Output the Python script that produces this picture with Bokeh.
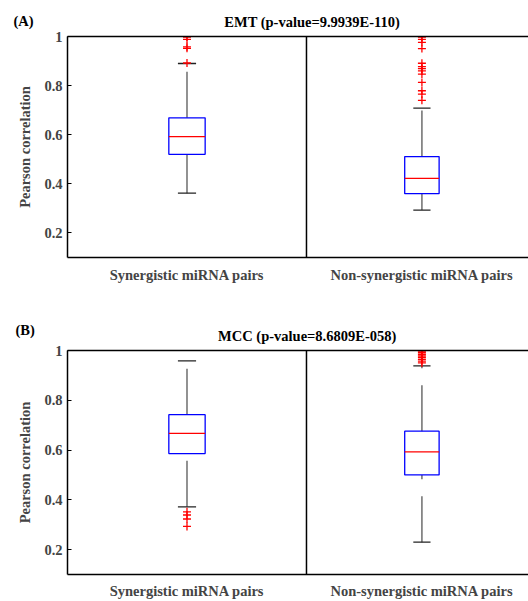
from bokeh.plotting import figure
from bokeh.models import Span, LinearAxis, FixedTicker, CustomJSTickFormatter, Range1d, ColumnDataSource
from bokeh.core.properties import value
from bokeh.layouts import column
from bokeh.embed import file_html
from bokeh.resources import INLINE

# ---------------- data ----------------
CATEGORIES = ["Synergistic miRNA pairs", "Non-synergistic miRNA pairs"]
Y_TICKS = [0.2, 0.4, 0.6, 0.8, 1.0]

EMT_LOWER = [0.362, 0.293]
EMT_Q1 = [0.520, 0.360]
EMT_MEDIAN = [0.592, 0.422]
EMT_Q3 = [0.669, 0.511]
EMT_UPPER = [0.890, 0.708]
EMT_OUT_SYN = [0.998, 0.988, 0.958, 0.952, 0.892]
EMT_OUT_NON = [0.998, 0.988, 0.976, 0.951, 0.891, 0.877, 0.869, 0.860,
               0.847, 0.813, 0.779, 0.765, 0.740]

MCC_LOWER = [0.372, 0.230]
MCC_Q1 = [0.586, 0.500]
MCC_MEDIAN = [0.667, 0.593]
MCC_Q3 = [0.742, 0.676]
MCC_UPPER = [0.958, 0.938]
MCC_OUT_SYN = [0.352, 0.339, 0.323, 0.293]
MCC_OUT_NON = [0.998, 0.992, 0.985, 0.978, 0.971, 0.964, 0.957, 0.950]

PANEL_TAGS = ["(A)", "(B)"]
TITLES = ["EMT (p-value=9.9939E-110)", "MCC (p-value=8.6809E-058)"]

# ---------------- layout constants ----------------
W = 528
X_POS = [0.5, 1.483]
BOX_W = [0.152, 0.144]
X_MAX = 1.929
FONT = "Liberation Serif"
FS = "14.5px"


def make_header(height, tag, title, tag_xy, title_xy):
    h = figure(width=W, height=height, x_range=Range1d(0, W), y_range=Range1d(0, height),
               output_backend="svg", toolbar_location=None,
               x_axis_type=None, y_axis_type=None,
               min_border_left=0, min_border_right=0, min_border_top=0, min_border_bottom=0)
    h.frame_align = False
    h.outline_line_color = None
    h.xgrid.visible = False
    h.ygrid.visible = False
    h.text(x=[tag_xy[0]], y=[tag_xy[1]], text=[tag], text_align="left",
           text_baseline="middle", text_font=value(FONT), text_font_style="bold",
           text_font_size=value(FS), text_color="black")
    h.text(x=[title_xy[0]], y=[title_xy[1]], text=[title], text_align="center",
           text_baseline="middle", text_font=value(FONT), text_font_style="bold",
           text_font_size=value(FS), text_color="black")
    return h


def make_panel(lower, q1, med, q3, upper, out_syn, out_non,
               height, top, bottom, label_standoff):
    p = figure(width=W, height=height, x_range=Range1d(0, X_MAX),
               y_range=Range1d(0.1, 1.0), output_backend="svg",
               toolbar_location=None, min_border_left=67, min_border_right=0,
               min_border_top=top, min_border_bottom=bottom)
    p.frame_align = False
    p.outline_line_color = None
    p.xgrid.visible = False
    p.ygrid.visible = False

    # y axis
    ya = p.yaxis[0]
    ya.ticker = FixedTicker(ticks=Y_TICKS)
    ya.formatter = CustomJSTickFormatter(code="return tick == 1 ? '1' : tick.toFixed(1);")
    ya.major_tick_in = 4
    ya.major_tick_out = 0
    ya.minor_tick_in = 0
    ya.minor_tick_out = 0
    ya.axis_line_width = 1.5
    ya.major_tick_line_width = 1.2
    ya.major_label_text_font = FONT
    ya.major_label_text_font_style = "bold"
    ya.major_label_text_font_size = FS
    ya.major_label_standoff = 5
    ya.axis_label = "Pearson correlation"
    ya.axis_label_text_font = FONT
    ya.axis_label_text_font_style = "bold"
    ya.axis_label_text_font_size = FS
    ya.axis_label_standoff = 8

    # x axis
    xa = p.xaxis[0]
    xa.ticker = FixedTicker(ticks=X_POS)
    xa.formatter = CustomJSTickFormatter(
        args=dict(labels=CATEGORIES, pos=X_POS),
        code="let i = 0; let best = 1e9; for (let k = 0; k < pos.length; k++) { const d = Math.abs(pos[k] - tick); if (d < best) { best = d; i = k; } } return labels[i];")
    xa.major_tick_in = 0
    xa.major_tick_out = 0
    xa.minor_tick_in = 0
    xa.minor_tick_out = 0
    xa.axis_line_width = 1.5
    xa.major_label_text_font = FONT
    xa.major_label_text_font_style = "bold"
    xa.major_label_text_font_size = FS
    xa.major_label_standoff = label_standoff

    # top border
    ta = LinearAxis(ticker=FixedTicker(ticks=[]), major_tick_in=0, major_tick_out=0,
                    minor_tick_in=0, minor_tick_out=0, axis_line_width=1.5,
                    major_label_standoff=0, major_label_text_font_size="0px")
    p.add_layout(ta, "above")

    # divider
    p.add_layout(Span(location=1.0, dimension="height", line_color="black", line_width=1.5))

    left = [x - w / 2 for x, w in zip(X_POS, BOX_W)]
    right = [x + w / 2 for x, w in zip(X_POS, BOX_W)]
    cl = [x - w / 4 for x, w in zip(X_POS, BOX_W)]
    cr = [x + w / 4 for x, w in zip(X_POS, BOX_W)]
    src = ColumnDataSource(dict(x=X_POS, left=left, right=right, cl=cl, cr=cr,
                                lower=lower, q1=q1, med=med, q3=q3, upper=upper))

    # whiskers (dashed, drawn from bottom to top)
    p.segment(x0="x", y0="q3", x1="x", y1="upper", source=src,
              line_color="#777777", line_width=1.6, line_dash="46 17")
    p.segment(x0="x", y0="lower", x1="x", y1="q1", source=src,
              line_color="#777777", line_width=1.6, line_dash="46 17")
    # caps
    p.segment(x0="cl", y0="upper", x1="cr", y1="upper", source=src,
              line_color="#222222", line_width=1.3)
    p.segment(x0="cl", y0="lower", x1="cr", y1="lower", source=src,
              line_color="#222222", line_width=1.3)
    # boxes
    p.quad(left="left", right="right", bottom="q1", top="q3", source=src,
           fill_color=None, line_color="#0000ff", line_width=1.3)
    # medians
    p.segment(x0="left", y0="med", x1="right", y1="med", source=src,
              line_color="#ff0000", line_width=1.3)
    # outliers
    ox = [X_POS[0]] * len(out_syn) + [X_POS[1]] * len(out_non)
    oy = list(out_syn) + list(out_non)
    p.scatter(x=ox, y=oy, marker="cross", size=8, line_color="#ff0000", line_width=1.3)
    return p


# header 1: page y 0..30 ; panel 1: 30..300 ; header 2: 300..344 ; panel 2: 344..601
h1 = make_header(30, PANEL_TAGS[0], TITLES[0], tag_xy=(13, 30 - 20.8), title_xy=(311.7, 30 - 21.2))
p1 = make_panel(EMT_LOWER, EMT_Q1, EMT_MEDIAN, EMT_Q3, EMT_UPPER, EMT_OUT_SYN, EMT_OUT_NON,
                height=270, top=6, bottom=43, label_standoff=9)
h2 = make_header(44, PANEL_TAGS[1], TITLES[1], tag_xy=(15, 44 - 29.3), title_xy=(306.7, 44 - 35))
p2 = make_panel(MCC_LOWER, MCC_Q1, MCC_MEDIAN, MCC_Q3, MCC_UPPER, MCC_OUT_SYN, MCC_OUT_NON,
                height=257, top=6, bottom=24, label_standoff=8)

layout = column(h1, p1, h2, p2, spacing=0)
open("out.html", "w").write(file_html(layout, INLINE))
